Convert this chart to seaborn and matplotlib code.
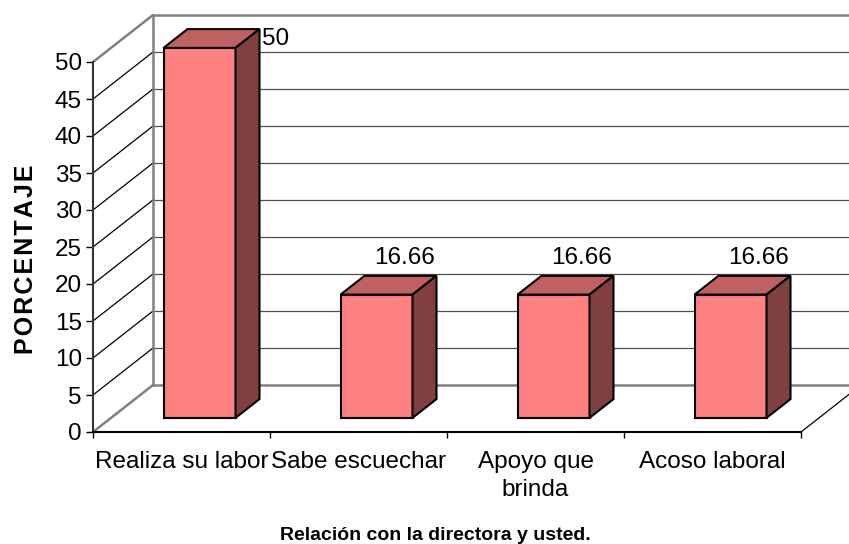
import matplotlib
matplotlib.use("Agg")
import matplotlib.pyplot as plt
import seaborn as sns
from matplotlib.patches import Polygon

# Data
categorias = ["Realiza su labor", "Sabe escuechar", "Apoyo que\nbrinda", "Acoso laboral"]
porcentajes = [50, 16.66, 16.66, 16.66]
etiquetas = ["50", "16.66", "16.66", "16.66"]
yticks = list(range(0, 55, 5))

sns.set_theme(style="white")
plt.rcParams["font.family"] = ["Liberation Sans", "DejaVu Sans"]
plt.rcParams["text.color"] = "black"
plt.rcParams["xtick.color"] = "black"
plt.rcParams["ytick.color"] = "black"

W, H = 849, 544
fig = plt.figure(figsize=(W / 100, H / 100), dpi=100)
ax = fig.add_axes([93 / W, (H - 432) / H, (W - 93) / W, 432 / H])

# fake 3D geometry (pixels -> data units)
PX_X = 177.0   # pixels per category
PX_Y = 7.4     # pixels per percentage unit
DX = 60 / PX_X   # depth offset in x
DY = 47 / PX_Y   # depth offset in y
D0, D1 = 0.3, 0.7
BW = 72 / PX_X

sns.barplot(x=categorias, y=porcentajes, ax=ax, color="#FF8080", saturation=1,
            width=BW, edgecolor="black", linewidth=1.5, zorder=3)

ax.set_xlim(-0.5, -0.5 + (W - 93) / PX_X)
ax.set_ylim(0, 432 / PX_Y)

ddx = (D1 - D0) * DX
ddy = (D1 - D0) * DY
for p in ax.patches[:len(porcentajes)]:
    p.set_x(p.get_x() + D0 * DX)
    p.set_y(D0 * DY)
    x0, w = p.get_x(), p.get_width()
    x1 = x0 + w
    yb, yt = p.get_y(), p.get_y() + p.get_height()
    top = Polygon([(x0, yt), (x1, yt), (x1 + ddx, yt + ddy), (x0 + ddx, yt + ddy)],
                  closed=True, facecolor="#C06060", edgecolor="black", lw=1.5, zorder=3)
    side = Polygon([(x1, yb), (x1 + ddx, yb + ddy), (x1 + ddx, yt + ddy), (x1, yt)],
                   closed=True, facecolor="#804040", edgecolor="black", lw=1.5, zorder=3)
    ax.add_patch(top)
    ax.add_patch(side)

# back wall, gridlines and floor
xl = -0.5
xr = ax.get_xlim()[1]
for v in yticks:
    edge = v in (yticks[0], yticks[-1])
    ax.plot([xl + DX, xr], [v + DY, v + DY], color="#808080" if edge else "#505050",
            lw=1.8 if edge else 0.9, zorder=1, clip_on=False)
    ax.plot([xl, xl + DX], [v, v + DY], color="#808080" if edge else "black",
            lw=1.8 if edge else 0.9, zorder=1)
ax.plot([xl + DX, xl + DX], [DY, yticks[-1] + DY], color="#808080", lw=1.8, zorder=1)
ax.plot([len(categorias) - 0.5, len(categorias) - 0.5 + DX], [0, DY],
        color="black", lw=0.9, zorder=1)

# value labels
for p, v, t in zip(ax.patches[:len(porcentajes)], porcentajes, etiquetas):
    xb = p.get_x() + ddx
    yb = p.get_y() + p.get_height() + ddy
    if yb + 3 > yticks[-1] + DY:
        ax.text(xb + p.get_width() + 0.015, yb - 1.3, t, fontsize=17.5, ha="left", va="center")
    else:
        ax.text(xb + p.get_width() / 2 + 0.02, yb + 2.4, t, fontsize=17.5, ha="center", va="center")

# axes
for s in ["top", "right"]:
    ax.spines[s].set_visible(False)
ax.spines["left"].set_bounds(0, yticks[-1])
ax.spines["left"].set_color("#333333")
ax.spines["left"].set_linewidth(1.5)
ax.spines["bottom"].set_bounds(-0.5, len(categorias) - 0.5)
ax.spines["bottom"].set_color("black")
ax.spines["bottom"].set_linewidth(1.5)

ax.set_yticks(yticks)
ax.tick_params(axis="y", which="major", direction="out", length=5, width=1, pad=3,
               labelsize=17.5, left=True)
ax.set_xticks(range(len(categorias)))
ax.set_xticklabels(categorias, linespacing=1.35)
ax.set_xticks([i - 0.5 for i in range(len(categorias) + 1)], minor=True)
ax.tick_params(axis="x", which="major", length=0, pad=14, labelsize=17.5)
ax.tick_params(axis="x", which="minor", direction="out", length=4.5, width=1, bottom=True)
ax.set_xlabel("")
ax.set_ylabel("")

fig.text(26 / W, 1 - 259 / H, "\u200a".join("PORCENTAJE"), rotation=90, fontsize=18,
         fontweight="bold", ha="center", va="center")
fig.text(435 / W, 1 - 535 / H, "Relación con la directora y usted.", fontsize=14,
         fontweight="bold", ha="center", va="center")

fig.savefig("out.png", dpi=100)
